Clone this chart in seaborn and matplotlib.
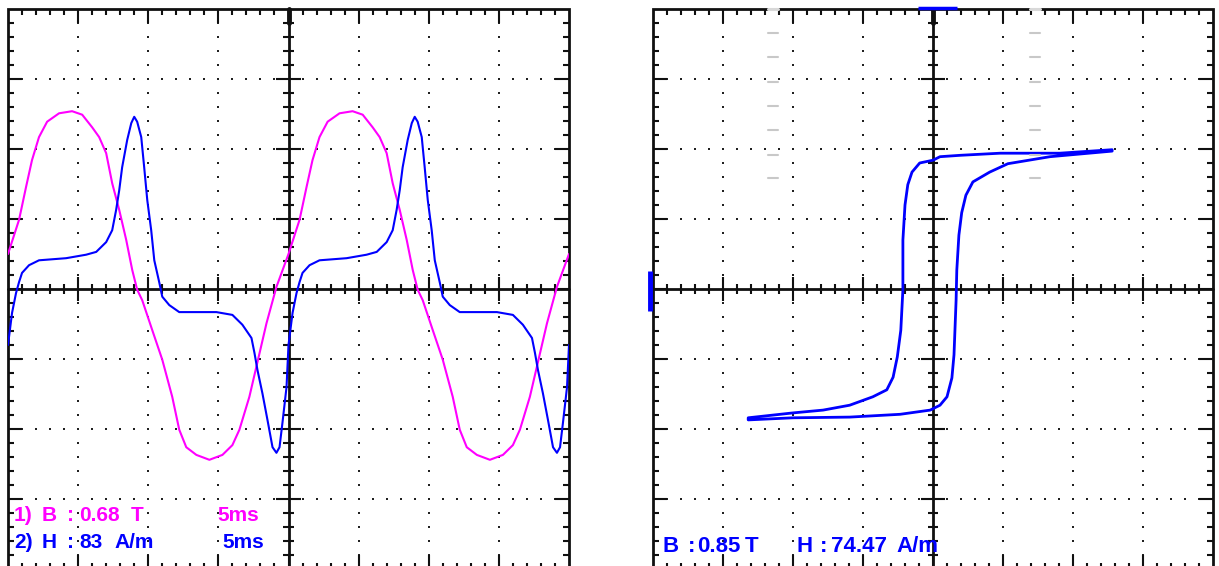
import numpy as np
import pandas as pd
import matplotlib
matplotlib.use("Agg")
import matplotlib.pyplot as plt
import seaborn as sns

# Trace B(t) and H(t), time in ms, amplitude in screen divisions
b_time = [0.0, 0.79, 1.29, 1.71, 2.21, 2.79, 3.64, 4.57, 5.29, 6.0, 6.5, 7.0, 7.43, 7.93,
          8.43, 8.86, 9.21, 9.57, 10.29, 11.0, 11.71, 12.21, 12.71, 13.43, 14.36, 15.29,
          16.0, 16.5, 17.21, 17.71, 18.43, 19.14,
          20.0, 20.79, 21.29, 21.71, 22.21, 22.79, 23.64, 24.57, 25.29, 26.0, 26.5, 27.0,
          27.43, 27.93, 28.43, 28.86, 29.21, 29.57, 30.29, 31.0, 31.71, 32.21, 32.71, 33.43,
          34.36, 35.29, 36.0, 36.5, 37.21, 37.71, 38.43, 39.14, 40.0]
b_vals = [0.5, 0.99, 1.46, 1.84, 2.17, 2.39, 2.51, 2.54, 2.49, 2.31, 2.17, 1.94, 1.51, 1.13,
          0.7, 0.27, -0.01, -0.16, -0.59, -1.01, -1.54, -2.01, -2.26, -2.37, -2.44, -2.37,
          -2.23, -2.01, -1.54, -1.11, -0.49, 0.03,
          0.5, 0.99, 1.46, 1.84, 2.17, 2.39, 2.51, 2.54, 2.49, 2.31, 2.17, 1.94,
          1.51, 1.13, 0.7, 0.27, -0.01, -0.16, -0.59, -1.01, -1.54, -2.01, -2.26, -2.37,
          -2.44, -2.37, -2.23, -2.01, -1.54, -1.11, -0.49, 0.03, 0.5]

h_time = [0.0, 0.29, 0.57, 0.79, 1.0, 1.5, 2.21, 4.14, 5.57, 6.29, 7.0, 7.43, 7.71, 7.93,
          8.14, 8.5, 8.79, 9.0, 9.21, 9.5, 9.71, 9.93, 10.21, 10.43, 10.79, 11.0, 11.5,
          12.21, 14.86, 16.0, 16.71, 17.36, 17.57, 17.79, 18.14, 18.5, 18.86, 19.14, 19.36,
          19.57, 19.86,
          20.0, 20.29, 20.57, 20.79, 21.0, 21.5, 22.21, 24.14, 25.57, 26.29, 27.0, 27.43,
          27.71, 27.93, 28.14, 28.5, 28.79, 29.0, 29.21, 29.5, 29.71, 29.93, 30.21, 30.43,
          30.79, 31.0, 31.5, 32.21, 34.86, 36.0, 36.71, 37.36, 37.57, 37.79, 38.14, 38.5,
          38.86, 39.14, 39.36, 39.57, 39.86, 40.0]
h_vals = [-0.8, -0.34, -0.06, 0.1, 0.23, 0.34, 0.41, 0.44, 0.49, 0.53, 0.67, 0.84, 1.13, 1.41,
          1.74, 2.13, 2.37, 2.46, 2.39, 2.17, 1.74, 1.27, 0.84, 0.41, 0.09, -0.11, -0.23,
          -0.33, -0.33, -0.37, -0.51, -0.7, -0.91, -1.16, -1.49, -1.87, -2.26, -2.34, -2.26,
          -1.91, -1.4,
          -0.8, -0.34, -0.06, 0.1, 0.23, 0.34, 0.41, 0.44, 0.49, 0.53, 0.67, 0.84,
          1.13, 1.41, 1.74, 2.13, 2.37, 2.46, 2.39, 2.17, 1.74, 1.27, 0.84, 0.41,
          0.09, -0.11, -0.23, -0.33, -0.33, -0.37, -0.51, -0.7, -0.91, -1.16, -1.49, -1.87,
          -2.26, -2.34, -2.26, -1.91, -1.4, -0.8]

# B-H loop in screen divisions (upper branch right->left, then lower branch left->right)
loop_h = [2.56, 1.81, 0.96, 0.39, 0.1, 0.0, -0.19, -0.3, -0.36, -0.4, -0.43, -0.43, -0.46,
          -0.51, -0.57, -0.66, -0.86, -1.19, -1.57, -2.0, -2.64,
          -2.64, -2.0, -1.19, -0.47, -0.04, 0.1, 0.2, 0.27, 0.3, 0.33, 0.34, 0.37, 0.41,
          0.47, 0.57, 0.81, 1.07, 1.67, 2.56]
loop_b = [1.99, 1.94, 1.94, 1.91, 1.89, 1.84, 1.8, 1.67, 1.49, 1.2, 0.7, -0.01, -0.59,
          -0.97, -1.26, -1.44, -1.54, -1.66, -1.73, -1.77, -1.84,
          -1.87, -1.84, -1.83, -1.79, -1.73, -1.66, -1.54, -1.27, -0.94, -0.16, 0.27, 0.77,
          1.09, 1.34, 1.53, 1.67, 1.79, 1.89, 1.97]

W, H = 1219, 566
MAG = "#ff00ff"
BLU = "#0000ff"
PX = 1 / 70.0

sns.set_theme(style="white")
plt.rcParams["font.family"] = ["Liberation Sans", "DejaVu Sans"]

fig = plt.figure(figsize=(W / 100, H / 100), dpi=100)
fig.patch.set_facecolor("white")


def screen(ax):
    ax.set_xlim(-4, 4)
    ax.set_ylim(-4, 4)
    ax.set_axis_off()
    k = "#101010"
    minor = np.round(np.arange(-3.8, 3.81, 0.2), 2)
    is_major = np.isclose(minor, np.round(minor))
    # dotted graticule
    dots = np.round(np.arange(-3.8, 3.81, 0.2), 2)
    for g in [-3, -2, -1, 1, 2, 3]:
        ax.plot(dots, np.full_like(dots, g), ls="none", marker="s", ms=1.5, mew=0,
                color="#202020", clip_on=False)
        ax.plot(np.full_like(dots, g), dots, ls="none", marker="s", ms=1.5, mew=0,
                color="#202020", clip_on=False)
    # border ticks
    L = np.where(is_major, 14 * PX, 6 * PX)
    kw = dict(color=k, lw=1.5, clip_on=False)
    ax.vlines(minor, 4 - L, 4, **kw)
    ax.vlines(minor, -4, -4 + L, **kw)
    ax.hlines(minor, -4, -4 + L, **kw)
    ax.hlines(minor, 4 - L, 4, **kw)
    # center axis ticks
    C = np.where(is_major, 12 * PX, 5 * PX)
    ax.vlines(minor, -C, C, **kw)
    ax.hlines(minor, -C, C, **kw)
    # frame and center axes
    ax.plot([-4, 4, 4, -4, -4], [-4, -4, 4, 4, -4], color=k, lw=2.0, clip_on=False,
            solid_joinstyle="miter")
    ax.plot([-4, 4], [0, 0], color=k, lw=2.0, clip_on=False)
    ax.plot([0, 0], [-4, 4], color=k, lw=2.0, clip_on=False)
    ax.plot([0, 0], [4, 4 - 14 * PX], color=k, lw=3.5, clip_on=False)


axL = fig.add_axes([8 / W, 1 - 569 / H, 561 / W, 560 / H])
axR = fig.add_axes([653 / W, 1 - 569 / H, 560 / W, 560 / H])
screen(axL)
screen(axR)

# time traces
df_b = pd.DataFrame({"x": np.array(b_time) / 5 - 4, "y": b_vals})
df_h = pd.DataFrame({"x": np.array(h_time) / 5 - 4, "y": h_vals})
sns.lineplot(data=df_b, x="x", y="y", ax=axL, color=MAG, lw=1.5, sort=False,
             estimator=None)
sns.lineplot(data=df_h, x="x", y="y", ax=axL, color=BLU, lw=1.5, sort=False,
             estimator=None)
axL.set_xlim(-4, 4)
axL.set_ylim(-4, 4)
axL.set_axis_off()

# hysteresis loop
df_loop = pd.DataFrame({"h": loop_h, "b": loop_b})
sns.lineplot(data=df_loop, x="h", y="b", ax=axR, color=BLU, lw=2.0, sort=False,
             estimator=None)
axR.set_xlim(-4, 4)
axR.set_ylim(-4, 4)
axR.set_axis_off()

# cursors / markers on XY screen
for cx in [-2.286, 1.457]:
    axR.plot([cx - 5 * PX, cx + 5 * PX], [4, 4], color="#d8d8d8", lw=2.2, clip_on=False)
    for cy in [3.657, 3.314, 2.957, 2.614, 2.271, 1.914, 1.586]:
        axR.plot([cx - 5 * PX, cx + 5 * PX], [cy, cy], color="#c8c8c8", lw=1.5,
                 clip_on=False)
axR.plot([-4 - 3 * PX, -4 - 3 * PX], [0.257, -0.314], color=BLU, lw=3.5, clip_on=False,
         solid_capstyle="butt")
axR.plot([-0.214, 0.343], [4 + 1 * PX, 4 + 1 * PX], color=BLU, lw=2.5, clip_on=False,
         solid_capstyle="butt")


def label(parts, y, color, size):
    for x, s in parts:
        fig.text(x / W, 1 - y / H, s, color=color, fontsize=size, fontweight="bold",
                 ha="left", va="baseline")


label([(14, "1)"), (42, "B"), (67, ":"), (79, "0.68"), (131, "T"), (217, "5ms")], 521, MAG, 15)
label([(14, "2)"), (42, "H"), (67, ":"), (79, "83"), (114, "A/m"), (222, "5ms")], 548, BLU, 15)
label([(662, "B"), (688, ":"), (697, "0.85"), (745, "T"), (796, "H"), (820, ":"),
       (831, "74.47"), (896, "A/m")], 552, BLU, 16)

fig.savefig("out.png", dpi=100, facecolor="white")
